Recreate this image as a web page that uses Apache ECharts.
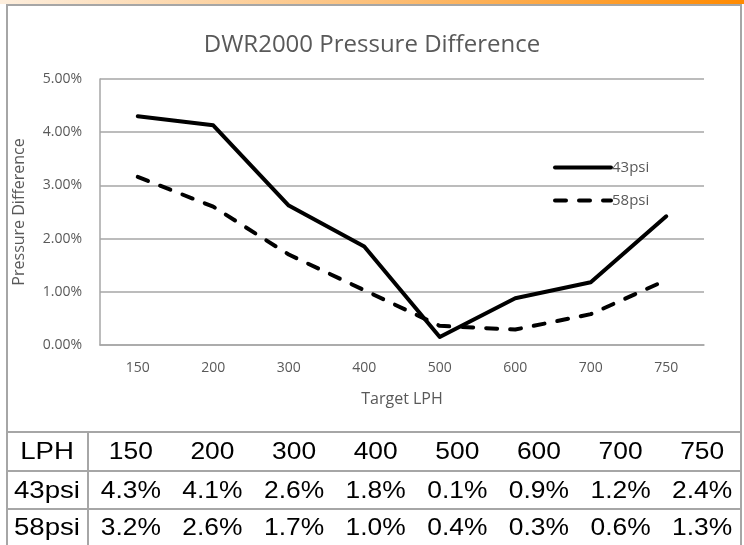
<!DOCTYPE html>
<html>
<head>
<meta charset="utf-8">
<script src="https://cdn.jsdelivr.net/npm/echarts@6/dist/echarts.min.js"></script>
<style>
  html, body { margin: 0; padding: 0; background: #fff; }
  #chart { width: 744px; height: 545px; }
</style>
</head>
<body>
<div id="chart"></div>
<script>
// data
var lph = ['150', '200', '300', '400', '500', '600', '700', '750'];
var psi43 = [4.30, 4.13, 2.62, 1.85, 0.15, 0.88, 1.18, 2.42];
var psi58 = [3.16, 2.60, 1.70, 1.03, 0.36, 0.29, 0.58, 1.22];
// table under the chart
var rowHeads = ['LPH', '43psi', '58psi'];
var row43 = ['4.3%', '4.1%', '2.6%', '1.8%', '0.1%', '0.9%', '1.2%', '2.4%'];
var row58 = ['3.2%', '2.6%', '1.7%', '1.0%', '0.4%', '0.3%', '0.6%', '1.3%'];

var chart = echarts.init(document.getElementById('chart'));
var txtFont = '"Open Sans", Lato, sans-serif';
var tblFont = '24px "Liberation Sans", Arial, sans-serif';
var gray = '#595959';
var border = '#a6a6a6';

// frame + table, drawn as graphic
var graphics = [];
graphics.push({
  type: 'rect', left: 0, top: 0, z: 1,
  shape: { width: 744, height: 4 },
  style: { fill: new echarts.graphic.LinearGradient(0, 0, 1, 0, [
    { offset: 0, color: '#fdeedd' }, { offset: 0.5, color: '#fcc07a' }, { offset: 1, color: '#ff8a00' }
  ]) }
});
graphics.push({
  type: 'polyline', z: 1,
  shape: { points: [[7, 545], [7, 5], [741, 5], [741, 545]] },
  style: { stroke: border, lineWidth: 2, fill: null }
});
var rowLines = [432, 471, 509];
rowLines.forEach(function (y) {
  graphics.push({ type: 'line', z: 1, shape: { x1: 7, y1: y, x2: 741, y2: y }, style: { stroke: border, lineWidth: 2 } });
});
graphics.push({ type: 'line', z: 1, shape: { x1: 88, y1: 432, x2: 88, y2: 545 }, style: { stroke: border, lineWidth: 2 } });

var rowCenters = [452, 491, 528];
var rows = [lph, row43, row58];
var colW = (741 - 88) / 8;
rows.forEach(function (row, r) {
  graphics.push({
    type: 'text', z: 2, x: 47, y: rowCenters[r], scaleX: 1.15,
    style: { text: rowHeads[r], font: tblFont, fill: '#000', align: 'center', verticalAlign: 'middle' }
  });
  row.forEach(function (t, i) {
    graphics.push({
      type: 'text', z: 2, x: 88 + colW * (i + 0.5) + 2, y: rowCenters[r], scaleX: 1.1,
      style: { text: t, font: tblFont, fill: '#000', align: 'center', verticalAlign: 'middle' }
    });
  });
});

var option = {
  animation: false,
  backgroundColor: '#fff',
  title: {
    text: 'DWR2000 Pressure Difference',
    left: 'center', top: 28,
    textStyle: { fontFamily: txtFont, fontSize: 24, fontWeight: 'normal', color: gray }
  },
  legend: {
    orient: 'vertical',
    left: 548, top: 155,
    itemWidth: 56, itemHeight: 16, itemGap: 18,
    itemStyle: { opacity: 0 },
    lineStyle: { width: 4 },
    textStyle: { fontFamily: txtFont, fontSize: 15, color: gray, padding: [0, 0, 0, -4] },
    data: ['43psi', '58psi']
  },
  grid: { left: 100, right: 40, top: 79, bottom: 200 },
  xAxis: {
    type: 'category',
    data: lph,
    boundaryGap: true,
    name: 'Target LPH',
    nameLocation: 'middle',
    nameGap: 46,
    nameTextStyle: { fontFamily: txtFont, fontSize: 16, color: gray },
    axisLine: { lineStyle: { color: border, width: 1.5 } },
    axisTick: { show: false },
    axisLabel: { fontFamily: txtFont, fontSize: 14, color: gray, margin: 16 }
  },
  yAxis: {
    type: 'value',
    min: 0, max: 5, interval: 1,
    name: 'Pressure Difference',
    nameLocation: 'middle',
    nameGap: 73,
    nameTextStyle: { fontFamily: txtFont, fontSize: 16, color: gray },
    axisLine: { show: true, lineStyle: { color: border, width: 1.5 } },
    axisTick: { show: false },
    splitLine: { lineStyle: { color: border, width: 1.5 } },
    axisLabel: {
      fontFamily: txtFont, fontSize: 14, color: gray, margin: 18,
      formatter: function (v) { return v.toFixed(2) + '%'; }
    }
  },
  series: [
    {
      name: '43psi', type: 'line', data: psi43, symbol: 'none',
      lineStyle: { color: '#000', width: 4, join: 'round', cap: 'round' },
      itemStyle: { color: '#000' }
    },
    {
      name: '58psi', type: 'line', data: psi58, symbol: 'none',
      lineStyle: { color: '#000', width: 4, type: [11, 13], cap: 'round', join: 'round' },
      itemStyle: { color: '#000' }
    }
  ],
  graphic: graphics
};
chart.setOption(option);
</script>
</body>
</html>
